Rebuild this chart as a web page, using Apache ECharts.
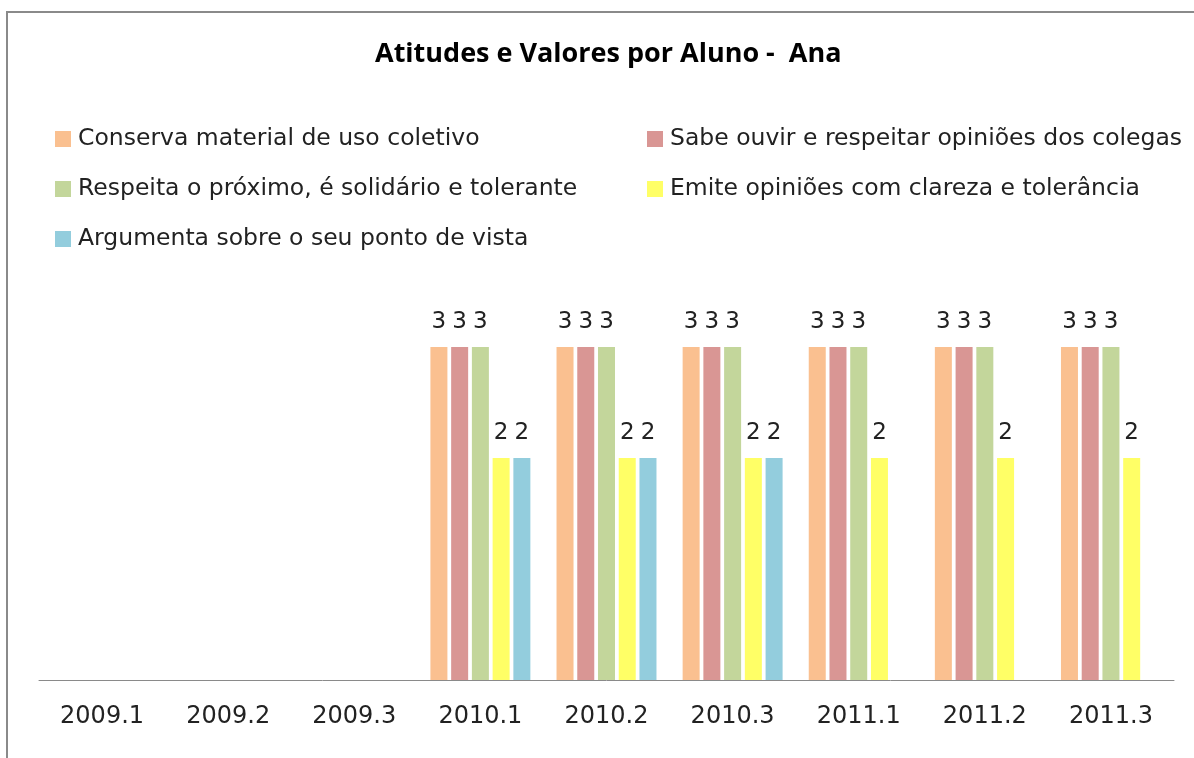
<!DOCTYPE html>
<html>
<head>
<meta charset="utf-8">
<script src="https://cdn.jsdelivr.net/npm/echarts@6/dist/echarts.min.js"></script>
<style>
  html, body { margin: 0; padding: 0; background: #fff; }
  #frame {
    position: absolute; left: 6px; top: 11px; width: 1300px; height: 900px;
    border-left: 2px solid #8a8a8a; border-top: 2px solid #8a8a8a;
  }
  #chart { position: absolute; left: 0; top: 0; width: 1194px; height: 758px; }
</style>
</head>
<body>
<div id="frame"></div>
<div id="chart"></div>
<script>
  // categorias (semestres)
  const categories = ["2009.1", "2009.2", "2009.3", "2010.1", "2010.2", "2010.3", "2011.1", "2011.2", "2011.3"];
  const names = [
    "Conserva material de uso coletivo",
    "Sabe ouvir e respeitar opiniões dos colegas",
    "Respeita o próximo, é solidário e tolerante",
    "Emite opiniões com clareza e tolerância",
    "Argumenta sobre o seu ponto de vista"
  ];
  const conserva = [null, null, null, 3, 3, 3, 3, 3, 3];
  const sabeOuvir = [null, null, null, 3, 3, 3, 3, 3, 3];
  const respeita = [null, null, null, 3, 3, 3, 3, 3, 3];
  const emite = [null, null, null, 2, 2, 2, 2, 2, 2];
  const argumenta = [null, null, null, 2, 2, 2, null, null, null];
  const colors = ["#FAC090", "#D99694", "#C3D69B", "#FFFF66", "#93CDDD"];

  const font = "'DejaVu Sans', sans-serif";
  const allData = [conserva, sabeOuvir, respeita, emite, argumenta];

  const legendText = { fontFamily: font, fontSize: 23.5, lineHeight: 24, color: "#222", padding: [0, 0, 0, 2] };

  const chart = echarts.init(document.getElementById("chart"));
  chart.setOption({
    animation: false,
    textStyle: { fontFamily: font },
    title: {
      text: "Atitudes e Valores por Aluno -  Ana",
      left: 370,
      top: 36,
      textStyle: { fontFamily: "'Open Sans', sans-serif", fontSize: 27, fontWeight: "bold", color: "#000" }
    },
    legend: [
      {
        data: [names[0], names[2], names[4]],
        orient: "vertical",
        left: 50,
        top: 122,
        itemGap: 26,
        itemWidth: 16,
        itemHeight: 16,
        icon: "rect",
        textStyle: legendText
      },
      {
        data: [names[1], names[3]],
        orient: "vertical",
        left: 642,
        top: 122,
        itemGap: 26,
        itemWidth: 16,
        itemHeight: 16,
        icon: "rect",
        textStyle: legendText
      }
    ],
    grid: { left: 39, right: 20, top: 236, bottom: 78, containLabel: false },
    xAxis: {
      type: "category",
      data: categories,
      axisLine: { lineStyle: { color: "#8a8a8a", width: 1 } },
      axisTick: { show: false },
      axisLabel: { fontFamily: font, fontSize: 24, color: "#222", margin: 25 }
    },
    yAxis: {
      type: "value",
      min: 0,
      max: 4,
      show: false
    },
    series: allData.map((d, i) => ({
      name: names[i],
      type: "bar",
      data: d,
      barWidth: 17,
      barGap: "22%",
      itemStyle: { color: colors[i] },
      label: {
        show: true,
        position: "top",
        distance: 13,
        fontFamily: font,
        fontSize: 23,
        color: "#222"
      }
    }))
  });
</script>
</body>
</html>
